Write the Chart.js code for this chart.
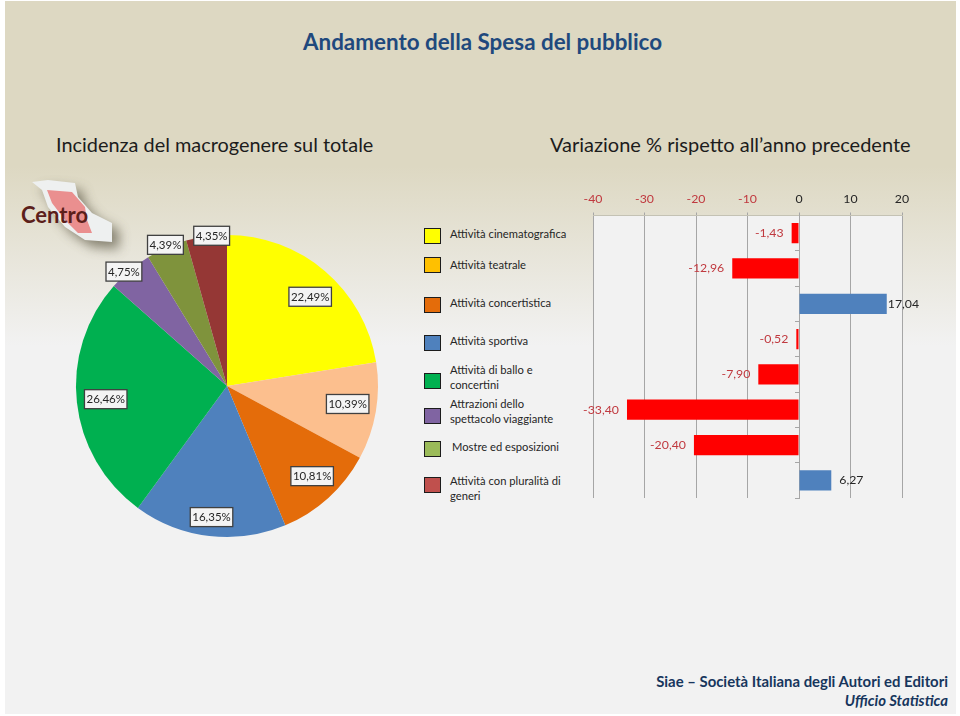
<!DOCTYPE html>
<html lang="it">
<head>
<meta charset="utf-8">
<title>Andamento della Spesa del pubblico</title>
<script src="https://cdn.jsdelivr.net/npm/chart.js@4"></script>
<style>
    html, body { margin: 0; padding: 0; background: #fff; }
    #slide {
        position: absolute; left: 5px; top: 1px; width: 951px; height: 713px;
        background: linear-gradient(#ddd8c2 0, #ddd8c2 165px, #f2f2f2 345px, #f2f2f2 100%);
        overflow: hidden;
    }
    #page { position: absolute; left: 0; top: 0; width: 960px; height: 716px; font-family: Lato, Carlito, sans-serif; }
    .txt { position: absolute; white-space: nowrap; line-height: 1; }
    canvas { position: absolute; }
    .swatch { position: absolute; left: 424px; width: 15px; height: 13.5px; border: 1.5px solid #1c1c1c; }
    .legend-text { position: absolute; font-size: 11.2px; line-height: 14.7px; color: #262626; white-space: pre-line; }
</style>
</head>
<body>
<div id="slide"></div>
<div id="page">
    <svg style="position:absolute;left:20px;top:170px" width="130" height="100">
        <defs><filter id="blur" x="-40%" y="-40%" width="180%" height="180%"><feGaussianBlur stdDeviation="6"/></filter></defs>
        <polygon points="12,12 28,10 55,13 58,27 72,43 92,53 92,72 65,70 45,57 28,37 22,20" fill="#5f5a46" opacity="0.7" filter="url(#blur)" transform="translate(7,7)"/>
        <polygon points="12,12 28,10 55,13 58,27 72,43 92,53 92,72 65,70 45,57 28,37 22,20" fill="#eef0f0"/>
        <polygon points="27,20 52,22 65,37 67,50 72,63 58,63 45,50 32,33" fill="#ea8f8f"/>
    </svg>
    <div class="txt" style="left:21px;top:204px;font-size:22px;font-weight:700;color:#5c1f1b">Centro</div>
    <div class="txt" style="left:303px;top:31px;font-size:22.4px;font-weight:700;color:#1f497d">Andamento della Spesa del pubblico</div>
    <div class="txt" style="left:56px;top:135px;font-size:19.9px;color:#1c1c1c">Incidenza del macrogenere sul totale</div>
    <div class="txt" style="left:550px;top:134px;font-size:20px;color:#1c1c1c">Variazione % rispetto all’anno precedente</div>
    <div class="txt" style="right:12px;top:674px;font-size:14.9px;font-weight:700;color:#17365d">Siae – Società Italiana degli Autori ed Editori</div>
    <div class="txt" style="right:12px;top:693px;font-size:14.9px;font-weight:700;font-style:italic;color:#17365d">Ufficio Statistica</div>
    <div id="legend"></div>
    <canvas id="pie-chart" width="340" height="340" style="left:57px;top:216px"></canvas>
    <canvas id="bar-chart" width="380" height="320" style="left:560px;top:185px"></canvas>
</div>
<script>
// Dati
const categories = [
    'Attività cinematografica',
    'Attività teatrale',
    'Attività concertistica',
    'Attività sportiva',
    'Attività di ballo e\nconcertini',
    'Attrazioni dello\nspettacolo viaggiante',
    'Mostre ed esposizioni',
    'Attività con pluralità di\ngeneri'
];
const shareValues = [22.49, 10.39, 10.81, 16.35, 26.46, 4.75, 4.39, 4.35];
const changeValues = [-1.43, -12.96, 17.04, -0.52, -7.90, -33.40, -20.40, 6.27];
const axisTicks = [-40, -30, -20, -10, 0, 10, 20];

const pieColors = ['#ffff00', '#fcbf8e', '#e46c0a', '#4f81bd', '#00b050', '#8064a2', '#7f933c', '#953735'];
const legendColors = ['#ffff00', '#ffc000', '#e46c0a', '#4f81bd', '#00b050', '#8064a2', '#9bbb59', '#c0504d'];

// Layout of the hand placed legend and pie labels
const swatchRows = [236, 265, 305, 343, 381, 416, 449, 485];
const legendRows = [235, 266, 304, 342, 378, 412, 448, 489];
const legendLeft = [450, 450, 450, 450, 450, 450, 452, 450];
const labelRadius = [122, 122, 124, 132, 122, 154, 154, 151];
const labelTurn = [2.5, -1.2, -1.2, 0, 0, -2, 0, 2];

const FONT = 'Lato, Carlito, sans-serif';
const RED_TEXT = '#c0393f';
const DARK_TEXT = '#262626';

function comma(v) {
    return v.toFixed(2).replace('.', ',');
}

// Legend
const legend = document.getElementById('legend');
categories.forEach(function(name, i) {
    const box = document.createElement('div');
    box.className = 'swatch';
    box.style.top = (swatchRows[i] - 8) + 'px';
    box.style.background = legendColors[i];
    legend.appendChild(box);

    const text = document.createElement('div');
    text.className = 'legend-text';
    text.textContent = name;
    text.style.left = legendLeft[i] + 'px';
    text.style.top = (legendRows[i] - (name.includes('\n') ? 15 : 8)) + 'px';
    legend.appendChild(text);
});

// Boxed percentage labels on the pie
const pieLabels = {
    id: 'pieLabels',
    afterDatasetsDraw(chart) {
        const ctx = chart.ctx;
        ctx.save();
        ctx.font = '11.5px ' + FONT;
        ctx.textAlign = 'center';
        ctx.textBaseline = 'middle';
        chart.getDatasetMeta(0).data.forEach(function(arc, i) {
            const angle = (arc.startAngle + arc.endAngle) / 2 + labelTurn[i] * Math.PI / 180;
            const x = arc.x + Math.cos(angle) * labelRadius[i];
            const y = arc.y + Math.sin(angle) * labelRadius[i];
            const text = comma(shareValues[i]) + '%';
            const w = ctx.measureText(text).width + 4;
            ctx.fillStyle = '#f4f4f4';
            ctx.strokeStyle = '#404040';
            ctx.lineWidth = 1.3;
            ctx.fillRect(x - w / 2, y - 9.5, w, 19);
            ctx.strokeRect(x - w / 2, y - 9.5, w, 19);
            ctx.fillStyle = DARK_TEXT;
            ctx.fillText(text, x, y + 0.5);
        });
        ctx.restore();
    }
};

new Chart(document.getElementById('pie-chart'), {
    type: 'pie',
    data: {
        labels: categories,
        datasets: [{ data: shareValues, backgroundColor: pieColors, borderWidth: 0, radius: 151 }]
    },
    options: {
        responsive: false,
        animation: false,
        plugins: { legend: { display: false }, tooltip: { enabled: false } }
    },
    plugins: [pieLabels]
});

// Plot panel and value labels for the bars
const barExtras = {
    id: 'barExtras',
    beforeDraw(chart) {
        const a = chart.chartArea;
        chart.ctx.fillStyle = '#f2f2f2';
        chart.ctx.fillRect(a.left, a.top, a.right - a.left, a.bottom - a.top);
    },
    afterDatasetsDraw(chart) {
        const ctx = chart.ctx;
        ctx.save();
        ctx.font = '12.3px ' + FONT;
        ctx.textBaseline = 'middle';
        chart.getDatasetMeta(0).data.forEach(function(bar, i) {
            const v = changeValues[i];
            const gap = v > 10 ? 1 : 8;
            ctx.textAlign = v < 0 ? 'right' : 'left';
            ctx.fillStyle = v < 0 ? RED_TEXT : DARK_TEXT;
            ctx.fillText(comma(v), bar.x + (v < 0 ? -gap : gap), bar.y);
        });
        ctx.restore();
    }
};

new Chart(document.getElementById('bar-chart'), {
    type: 'bar',
    data: {
        labels: categories,
        datasets: [{
            data: changeValues,
            backgroundColor: changeValues.map(v => v < 0 ? '#ff0000' : '#4f81bd'),
            borderWidth: 0,
            categoryPercentage: 0.575,
            barPercentage: 1
        }]
    },
    options: {
        indexAxis: 'y',
        responsive: false,
        animation: false,
        layout: { padding: { left: 33, right: 38, bottom: 7 } },
        plugins: { legend: { display: false }, tooltip: { enabled: false } },
        scales: {
            x: {
                position: 'top',
                min: axisTicks[0],
                max: axisTicks[axisTicks.length - 1],
                afterBuildTicks(scale) {
                    scale.ticks = axisTicks.map(v => ({ value: v }));
                },
                afterFit(scale) {
                    scale.height = 30.5;
                },
                grid: { color: '#a6a6a6', tickLength: 3 },
                border: { color: '#c4c2b4' },
                ticks: {
                    padding: 6,
                    font: { family: FONT, size: 12.3 },
                    color: ctx => ctx.tick.value < 0 ? RED_TEXT : DARK_TEXT
                }
            },
            y: {
                position: { x: 0 },
                grid: { drawOnChartArea: false, tickLength: 4, color: '#a6a6a6' },
                border: { color: '#a6a6a6' },
                ticks: { display: false }
            }
        }
    },
    plugins: [barExtras]
});
</script>
</body>
</html>
